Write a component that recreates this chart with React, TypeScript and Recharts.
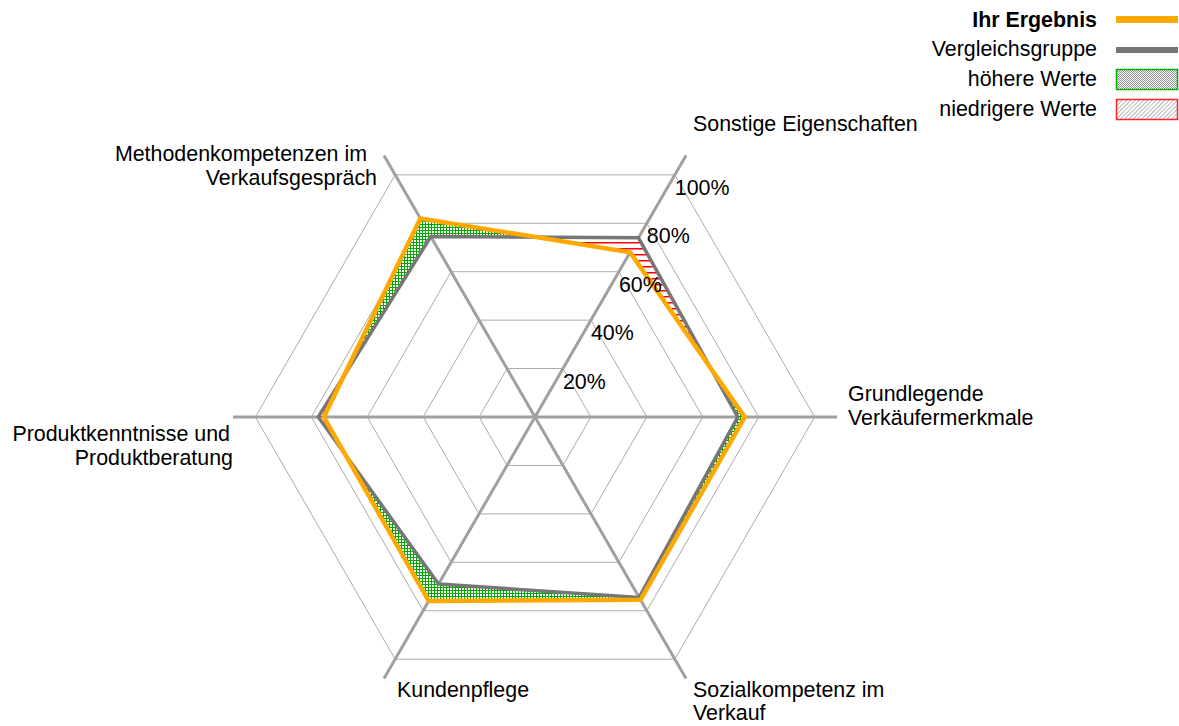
import React from "react";
import {
  RadarChart,
  Radar,
  PolarGrid,
  PolarAngleAxis,
  PolarRadiusAxis,
} from "recharts";

// Kategorien (Zeilenumbrüche wie im Original)
const categoryLines: string[][] = [
  ["Sonstige Eigenschaften"],
  ["Grundlegende", "Verkäufermerkmale"],
  ["Sozialkompetenz im", "Verkauf"],
  ["Kundenpflege"],
  ["Produktkenntnisse und", "Produktberatung"],
  ["Methodenkompetenzen im", "Verkaufsgespräch"],
];
const categories = categoryLines.map((l) => l.join(" "));

const ihrErgebnis = [68, 75, 75.5, 76, 75.5, 82];
const vergleichsgruppe = [74, 72.5, 74.5, 69, 77.5, 74.5];

const radiusTicks = [20, 40, 60, 80, 100];

const legendNames = [
  "Ihr Ergebnis",
  "Vergleichsgruppe",
  "höhere Werte",
  "niedrigere Werte",
];

const data = categories.map((name, i) => ({
  name,
  ihr: ihrErgebnis[i],
  gruppe: vergleichsgruppe[i],
}));

const FONT = "'Liberation Sans', Arial, sans-serif";
const FS = 21.4;
const ORANGE = "#FFA800";
const GRAY = "#767676";

// label placement relative to tick point
const labelLayout = [
  { anchor: "start", dx: [3], dy: [-17.5] },
  { anchor: "start", dx: [3, 3], dy: [-16, 8] },
  { anchor: "start", dx: [3, 3], dy: [11.5, 34.5] },
  { anchor: "start", dx: [17], dy: [11.5] },
  { anchor: "end", dx: [5, 8], dy: [24, 48] },
  { anchor: "end", dx: [-13, -3], dy: [12.5, 36.5] },
];

function AngleTick(props: any) {
  const { x, y, payload } = props;
  const idx = categories.indexOf(payload.value);
  const lay = labelLayout[idx];
  const lines = categoryLines[idx];
  return (
    <g>
      {lines.map((line, i) => (
        <text
          key={i}
          x={x + lay.dx[i]}
          y={y + lay.dy[i]}
          textAnchor={lay.anchor as any}
          fontSize={FS}
          fontFamily={FONT}
          fill="#000"
        >
          {line}
        </text>
      ))}
    </g>
  );
}

function RadiusTick(props: any) {
  const { x, y, payload } = props;
  return (
    <text x={x} y={y + 20} fontSize={FS} fontFamily={FONT} fill="#000">
      {payload.value}%
    </text>
  );
}

// fills the area between both lines: green where ihr > gruppe, red otherwise
function DiffShape(props: any) {
  const pts = props.points || [];
  if (pts.length < 3) return null;
  const RAD = Math.PI / 180;
  const ref = pts.find((p: any) => p.value > 0);
  const k = ref.radius / ref.value;
  const cx = ref.x - ref.radius * Math.cos(-ref.angle * RAD);
  const cy = ref.y - ref.radius * Math.sin(-ref.angle * RAD);
  const own = pts.map((p: any) => [p.x, p.y]);
  const other = pts.map((p: any) => {
    const r = p.payload.gruppe * k;
    return [
      cx + r * Math.cos(-p.angle * RAD),
      cy + r * Math.sin(-p.angle * RAD),
    ];
  });
  const toPath = (a: number[][]) =>
    "M" + a.map((p) => `${p[0]},${p[1]}`).join("L") + "Z";
  const big = "M-5000,-5000H5000V5000H-5000Z";
  return (
    <g>
      <defs>
        <pattern id="greenHatch" width={3} height={3} patternUnits="userSpaceOnUse">
          <rect width={3} height={3} fill="#00A800" />
          <rect width={2} height={2} fill="#fff" />
        </pattern>
        <pattern id="redHatch" width={6} height={6} patternUnits="userSpaceOnUse">
          <rect width={6} height={6} fill="#fff" />
          <rect y={2} width={6} height={1.5} fill="#FF0000" />
        </pattern>
        <clipPath id="outsideGruppe">
          <path clipRule="evenodd" d={big + toPath(other)} />
        </clipPath>
        <clipPath id="outsideIhr">
          <path clipRule="evenodd" d={big + toPath(own)} />
        </clipPath>
      </defs>
      <path d={toPath(own)} fill="url(#greenHatch)" clipPath="url(#outsideGruppe)" />
      <path d={toPath(other)} fill="url(#redHatch)" clipPath="url(#outsideIhr)" />
    </g>
  );
}

function LegendBox() {
  const rows = [27, 56, 86, 116];
  return (
    <svg
      width={1179}
      height={130}
      style={{ position: "absolute", left: 0, top: 0, pointerEvents: "none" }}
    >
      <defs>
        <pattern id="lgChecker" width={2} height={2} patternUnits="userSpaceOnUse">
          <rect width={2} height={2} fill="#fff" />
          <rect width={1} height={1} fill="#8a8a8a" />
          <rect x={1} y={1} width={1} height={1} fill="#8a8a8a" />
        </pattern>
        <pattern
          id="lgDiag"
          width={3}
          height={3}
          patternUnits="userSpaceOnUse"
          patternTransform="rotate(45)"
        >
          <rect width={3} height={3} fill="#fff" />
          <rect width={1} height={3} fill="#b8b8b8" />
        </pattern>
      </defs>
      {legendNames.map((n, i) => (
        <text
          key={n}
          x={1097}
          y={rows[i]}
          textAnchor="end"
          fontSize={FS}
          fontFamily={FONT}
          fontWeight={i === 0 ? "bold" : "normal"}
          fill="#000"
        >
          {n}
        </text>
      ))}
      <rect x={1116} y={16} width={62} height={7} fill={ORANGE} />
      <rect x={1116} y={47} width={62} height={6} fill={GRAY} />
      <rect x={1116.5} y={69.5} width={61} height={20} fill="url(#lgChecker)" stroke="#00B000" strokeWidth={1.5} />
      <rect x={1116.5} y={99.5} width={61} height={20} fill="url(#lgDiag)" stroke="#FF2020" strokeWidth={1.5} />
    </svg>
  );
}

export default function App() {
  return (
    <div
      style={{
        position: "absolute",
        left: 0,
        top: 0,
        width: 1179,
        height: 726,
        background: "#fff",
      }}
    >
      <RadarChart
        width={1179}
        height={726}
        data={data}
        cx={535}
        cy={417}
        outerRadius={302}
        startAngle={60}
        endAngle={-300}
        margin={{ top: 0, right: 0, bottom: 0, left: 0 }}
      >
        <PolarGrid gridType="polygon" radialLines={false} stroke="#ABABAB" strokeWidth={1} />
        <PolarGrid gridType="polygon" polarRadius={[0]} stroke="#A0A0A0" strokeWidth={3} />
        <PolarAngleAxis
          dataKey="name"
          tick={<AngleTick />}
          tickLine={false}
          axisLine={false}
        />
        <PolarRadiusAxis
          angle={60}
          type="number"
          domain={[0, 108]}
          ticks={radiusTicks}
          tick={<RadiusTick />}
          tickLine={false}
          axisLine={false}
        />
        <Radar
          dataKey="ihr"
          shape={<DiffShape />}
          dot={false}
          legendType="none"
          isAnimationActive={false}
        />
        <Radar
          dataKey="gruppe"
          stroke={GRAY}
          strokeWidth={3.5}
          fill="none"
          dot={false}
          isAnimationActive={false}
        />
        <Radar
          dataKey="ihr"
          stroke={ORANGE}
          strokeWidth={4.5}
          fill="none"
          dot={false}
          isAnimationActive={false}
        />
      </RadarChart>
      <LegendBox />
    </div>
  );
}
